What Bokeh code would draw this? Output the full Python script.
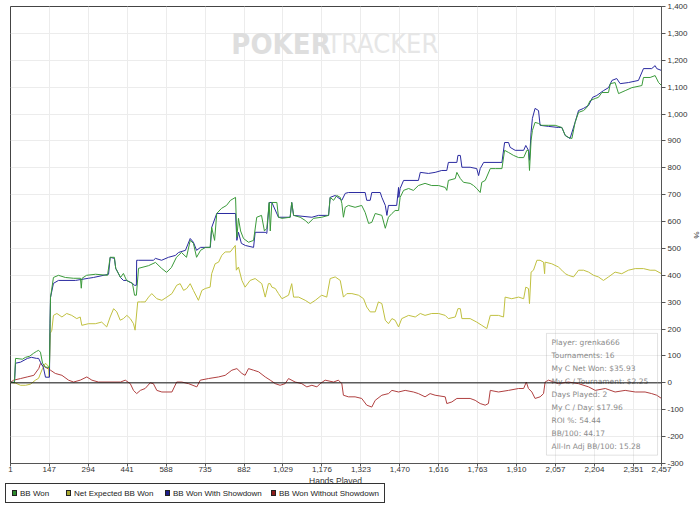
from bokeh.plotting import figure
from bokeh.layouts import column
from bokeh.models import (ColumnDataSource, FixedTicker, NumeralTickFormatter, Range1d,
                          Label, BoxAnnotation, Span, Div)
from bokeh.embed import file_html
from bokeh.resources import INLINE
from bokeh.core.properties import value

# ---- series: hands played vs. cumulative big blinds ----
bb_won_hands = [1, 16, 20, 46, 58, 73, 88, 99, 107, 114, 122, 133, 148, 152, 163, 182, 208, 239, 265, 268,
                271, 288, 322, 367, 377, 393, 398, 416, 427, 439, 461, 469, 476, 484, 522, 548, 571, 590, 608, 627,
                646, 665, 679, 691, 703, 718, 737, 754, 760, 771, 779, 797, 816, 831, 850, 855, 861, 869, 880, 899,
                918, 930, 948, 959, 968, 977, 981, 987, 1006, 1012, 1025, 1056, 1062, 1069, 1094, 1113, 1125, 1144, 1175, 1201,
                1207, 1220, 1232, 1245, 1251, 1257, 1264, 1276, 1301, 1326, 1339, 1352, 1364, 1377, 1402, 1415, 1427, 1440, 1452, 1465,
                1471, 1484, 1503, 1521, 1540, 1565, 1590, 1616, 1641, 1647, 1653, 1679, 1685, 1698, 1710, 1735, 1748, 1760, 1773, 1779,
                1792, 1811, 1830, 1855, 1865, 1880, 1899, 1918, 1937, 1949, 1955, 1959, 1965, 1970, 1980, 1993, 2005, 2031, 2056, 2081,
                2094, 2106, 2119, 2131, 2144, 2163, 2175, 2188, 2207, 2219, 2232, 2257, 2264, 2282, 2295, 2320, 2345, 2383, 2389, 2414,
                2433, 2446, 2457]
bb_won = [2, 2, 91, 88, 95, 99, 110, 117, 121, 114, 73, 58, 58, 318, 392, 400, 392, 389, 389, 352,
          389, 400, 404, 400, 467, 467, 426, 392, 407, 381, 370, 326, 326, 426, 436, 448, 426, 411, 429, 467,
          485, 467, 530, 519, 467, 493, 504, 504, 578, 530, 630, 649, 660, 679, 690, 541, 612, 565, 537, 523,
          530, 616, 623, 565, 575, 671, 565, 671, 671, 616, 612, 616, 671, 623, 616, 604, 593, 612, 616, 623,
          690, 679, 697, 690, 668, 616, 653, 660, 653, 660, 634, 593, 597, 630, 623, 575, 616, 630, 641, 641,
          690, 716, 723, 716, 734, 742, 734, 734, 727, 716, 753, 760, 783, 760, 746, 742, 734, 723, 708, 746,
          753, 797, 797, 797, 865, 857, 846, 838, 838, 865, 865, 790, 902, 939, 969, 965, 958, 958, 958, 950,
          920, 913, 909, 969, 1006, 1013, 1024, 1050, 1058, 1062, 1080, 1080, 1113, 1117, 1076, 1087, 1098, 1106, 1136, 1136,
          1143, 1117, 1106]

net_ev_hands = [1, 20, 39, 58, 76, 95, 107, 122, 133, 144, 147, 151, 157, 163, 176, 195, 213, 232, 251, 264,
                270, 295, 321, 345, 364, 377, 390, 402, 415, 427, 440, 453, 465, 471, 481, 491, 509, 522, 534, 553,
                572, 591, 610, 628, 641, 654, 666, 679, 691, 710, 723, 736, 754, 760, 773, 786, 798, 811, 830, 849,
                853, 861, 874, 886, 905, 924, 949, 962, 974, 981, 987, 1000, 1012, 1025, 1050, 1062, 1069, 1088, 1113, 1132,
                1151, 1175, 1194, 1207, 1226, 1245, 1257, 1270, 1289, 1314, 1333, 1345, 1358, 1377, 1389, 1402, 1415, 1427, 1440, 1452,
                1465, 1477, 1503, 1528, 1547, 1565, 1590, 1616, 1641, 1653, 1679, 1689, 1698, 1704, 1735, 1760, 1779, 1798, 1811, 1842,
                1861, 1867, 1892, 1918, 1937, 1945, 1955, 1959, 1965, 1974, 1987, 1999, 2012, 2016, 2018, 2043, 2068, 2081, 2094, 2106,
                2125, 2144, 2163, 2182, 2201, 2219, 2238, 2257, 2282, 2307, 2332, 2358, 2389, 2414, 2433, 2457]
net_ev = [2, -1, -9, -9, -5, 10, 17, 54, 73, 62, 22, 184, 196, 251, 258, 245, 258, 251, 239, 245,
          214, 220, 220, 226, 208, 245, 276, 264, 233, 239, 251, 239, 220, 196, 301, 301, 301, 319, 332, 313,
          307, 319, 332, 363, 369, 344, 351, 369, 344, 307, 344, 351, 356, 406, 443, 449, 474, 487, 487, 511,
          419, 431, 381, 356, 381, 388, 369, 319, 369, 369, 356, 351, 332, 313, 326, 369, 319, 319, 307, 295,
          307, 326, 319, 388, 394, 381, 319, 332, 332, 326, 313, 282, 264, 264, 301, 295, 233, 220, 239, 233,
          208, 239, 251, 245, 258, 251, 258, 258, 251, 239, 245, 276, 276, 239, 239, 226, 214, 202, 251, 251,
          245, 319, 313, 319, 313, 356, 351, 295, 412, 419, 456, 456, 449, 406, 449, 443, 431, 419, 406, 400,
          394, 419, 419, 412, 400, 394, 381, 394, 412, 406, 419, 425, 425, 419, 419, 406]

sd_hands = [1, 16, 20, 39, 65, 80, 99, 107, 114, 125, 133, 148, 150, 152, 163, 182, 246, 295, 314, 371,
            377, 393, 398, 416, 427, 439, 461, 469, 476, 477, 484, 540, 548, 571, 597, 623, 635, 661, 679, 691,
            703, 718, 755, 760, 779, 850, 855, 861, 872, 887, 918, 924, 962, 968, 977, 987, 1012, 1056, 1062, 1069,
            1138, 1163, 1201, 1207, 1226, 1251, 1264, 1276, 1339, 1345, 1358, 1364, 1396, 1402, 1415, 1421, 1427, 1458, 1465, 1466,
            1471, 1484, 1540, 1547, 1578, 1603, 1628, 1647, 1653, 1685, 1689, 1698, 1704, 1735, 1760, 1767, 1773, 1786, 1855, 1865,
            1880, 1886, 1905, 1937, 1945, 1955, 1959, 1965, 1970, 1980, 1993, 1999, 2031, 2068, 2081, 2094, 2112, 2131, 2144, 2163,
            2182, 2197, 2213, 2238, 2257, 2270, 2288, 2301, 2332, 2370, 2389, 2420, 2433, 2439, 2457]
sd_won = [2, 2, 73, 77, 91, 95, 91, 91, 77, 58, 21, 21, 222, 318, 370, 381, 381, 389, 392, 404,
          467, 463, 426, 392, 381, 381, 370, 363, 363, 456, 456, 456, 463, 456, 467, 474, 485, 493, 537, 523,
          493, 504, 504, 578, 630, 630, 530, 560, 519, 511, 504, 560, 560, 556, 671, 671, 616, 616, 671, 623,
          616, 623, 623, 690, 697, 679, 705, 708, 708, 679, 679, 708, 708, 690, 660, 623, 660, 660, 727, 690,
          723, 753, 753, 783, 779, 783, 790, 790, 820, 820, 846, 846, 802, 802, 797, 771, 797, 820, 820, 894,
          894, 876, 865, 865, 883, 865, 828, 932, 984, 1021, 1013, 958, 954, 950, 950, 920, 909, 969, 1013, 1021,
          1032, 1062, 1069, 1087, 1098, 1125, 1132, 1113, 1117, 1125, 1169, 1169, 1180, 1169, 1162]

nsd_hands = [1, 13, 39, 64, 89, 108, 114, 121, 152, 170, 195, 220, 239, 264, 289, 308, 333, 416, 434, 453,
             465, 477, 491, 509, 528, 540, 553, 572, 610, 628, 647, 673, 704, 717, 748, 786, 811, 836, 855, 874,
             886, 899, 918, 937, 962, 981, 1000, 1018, 1037, 1050, 1075, 1100, 1119, 1138, 1157, 1169, 1188, 1220, 1238, 1251,
             1257, 1276, 1301, 1326, 1345, 1364, 1377, 1402, 1427, 1440, 1465, 1490, 1521, 1540, 1565, 1584, 1603, 1641, 1647, 1666,
             1685, 1735, 1754, 1773, 1792, 1804, 1811, 1842, 1880, 1918, 1937, 1947, 1955, 1968, 1980, 1999, 2012, 2018, 2031, 2068,
             2106, 2144, 2182, 2207, 2245, 2282, 2320, 2358, 2395, 2420, 2439, 2457]
nsd_won = [2, 10, 16, 22, 28, 54, 72, 65, 47, 35, 28, 10, 3, 10, 22, 10, 3, 3, 10, -3,
           -28, -40, -28, -21, 0, -3, -28, -34, -34, 3, 3, -3, -15, 10, 16, 22, 28, 47, 53, 35,
           28, 53, 47, 41, 22, 10, -3, -9, -3, 16, 3, -3, -15, -9, -15, -3, 10, 3, 10, -3,
           -46, -52, -52, -58, -83, -90, -65, -46, -40, -28, -34, -28, -34, -40, -52, -40, -46, -52, -77, -71,
           -58, -58, -65, -77, -83, -77, -28, -34, -28, -21, -21, 3, -21, -34, -58, -52, -40, 3, 10, -3,
           3, -3, -15, -28, -21, -34, -28, -34, -34, -40, -46, -58]

x_ticks = [1, 147, 294, 441, 588, 735, 882, 1029, 1176, 1323, 1470, 1616, 1763, 1910, 2057, 2204, 2351, 2457]
y_ticks = list(range(-300, 1401, 100))

series_names = ["BB Won", "Net Expected BB Won", "BB Won With Showdown", "BB Won Without Showdown"]
line_colors = ["#3a9a3a", "#c0c040", "#2a2aa0", "#b04040"]
swatch_colors = ["#2c8a2c", "#a8a830", "#1c1c8c", "#8c1c1c"]

stats_lines = ["Player: grenka666", "Tournaments: 16", "My C Net Won: $35.93",
               "My C / Tournament: $2.25", "Days Played: 2", "My C / Day: $17.96",
               "ROI %: 54.44", "BB/100: 44.17", "All-In Adj BB/100: 15.28"]

FONT = "Liberation Sans"

p = figure(frame_width=651, frame_height=457, output_backend="svg", toolbar_location=None,
           x_range=Range1d(1, 2457), y_range=Range1d(-300, 1400),
           y_axis_location="right",
           min_border_left=10, min_border_right=39, min_border_top=6, min_border_bottom=0)
p.background_fill_color = "white"
p.border_fill_color = "white"
p.outline_line_color = "#444444"

# axes
p.xaxis.ticker = FixedTicker(ticks=x_ticks)
p.yaxis.ticker = FixedTicker(ticks=y_ticks)
for ax in (p.xaxis, p.yaxis):
    ax.formatter = NumeralTickFormatter(format="0,0")
    ax.major_label_text_font = FONT
    ax.major_label_text_font_size = "8px"
    ax.major_label_text_color = "#333333"
    ax.axis_line_color = "#555555"
    ax.major_tick_line_color = "#555555"
    ax.major_tick_out = 3
    ax.major_tick_in = 0
    ax.minor_tick_line_color = None
    ax.major_label_standoff = 0
p.yaxis.major_tick_out = 4
p.yaxis.major_label_standoff = 2
p.yaxis.axis_label = "%"
p.yaxis.axis_label_text_font = FONT
p.yaxis.axis_label_text_font_size = "8px"
p.yaxis.axis_label_text_font_style = "normal"
p.yaxis.axis_label_text_color = "#333333"
p.yaxis.axis_label_standoff = 1

p.xgrid.grid_line_color = "#ececec"
p.ygrid.grid_line_color = "#ececec"

# watermark
p.add_layout(Label(x=834, y=1262, text="POKER", text_font="DejaVu Sans Condensed",
                   text_font_style="bold", text_font_size="29px", text_color="#dedede",
                   text_baseline="alphabetic", level="underlay"))
p.add_layout(Label(x=1193, y=1262, text="TRACKER", text_font="DejaVu Sans Condensed",
                   text_font_size="27px", text_color="#e6e6e6",
                   text_baseline="alphabetic", level="underlay"))

# zero line
p.add_layout(Span(location=0, dimension="width", line_color="#111111", line_width=1))

series = [(bb_won_hands, bb_won), (net_ev_hands, net_ev), (sd_hands, sd_won), (nsd_hands, nsd_won)]
for i in [3, 1, 2, 0]:
    xs, ys = series[i]
    p.line(xs, ys, line_color=line_colors[i], line_width=1)

# stats panel
p.add_layout(BoxAnnotation(left=2023, right=2442, bottom=-269, top=184,
                           fill_alpha=0, line_color="#a0a0a0", line_width=1))
row_step = 48.5
stats_src = ColumnDataSource(dict(x=[2042] * len(stats_lines),
                                  y=[151 - k * row_step for k in range(len(stats_lines))],
                                  t=stats_lines))
p.text(x="x", y="y", text="t", source=stats_src, text_font=value("DejaVu Sans"),
       text_font_size="7.5px", text_color="#8a8a8a", text_baseline="middle")

# ---- axis title and legend strip under the chart ----
swatch_left = [12, 66, 165, 271]
parts = ['<div style="position:relative;width:700px;height:40px;'
         'font-family:\'Liberation Sans\',sans-serif;color:#222;overflow:visible;">',
         '<div style="position:absolute;left:10px;width:651px;top:3px;text-align:center;'
         'font-size:8.5px;line-height:9px;color:#333;">Hands Played</div>',
         '<div style="position:absolute;left:5px;top:9px;width:380px;height:20px;'
         'border:1px solid #333;background:#fff;"></div>']
for left, col, name in zip(swatch_left, swatch_colors, series_names):
    parts.append(f'<div style="position:absolute;left:{left}px;top:16px;width:5px;height:6px;'
                 f'background:{col};border:1px solid #222;"></div>')
    parts.append(f'<div style="position:absolute;left:{left + 8}px;top:14px;font-size:8px;'
                 f'line-height:11px;white-space:nowrap;">{name}</div>')
parts.append('</div>')
strip = Div(text="".join(parts), width=700, height=40, margin=0)

open("out.html", "w").write(file_html(column(p, strip, spacing=0), INLINE))
